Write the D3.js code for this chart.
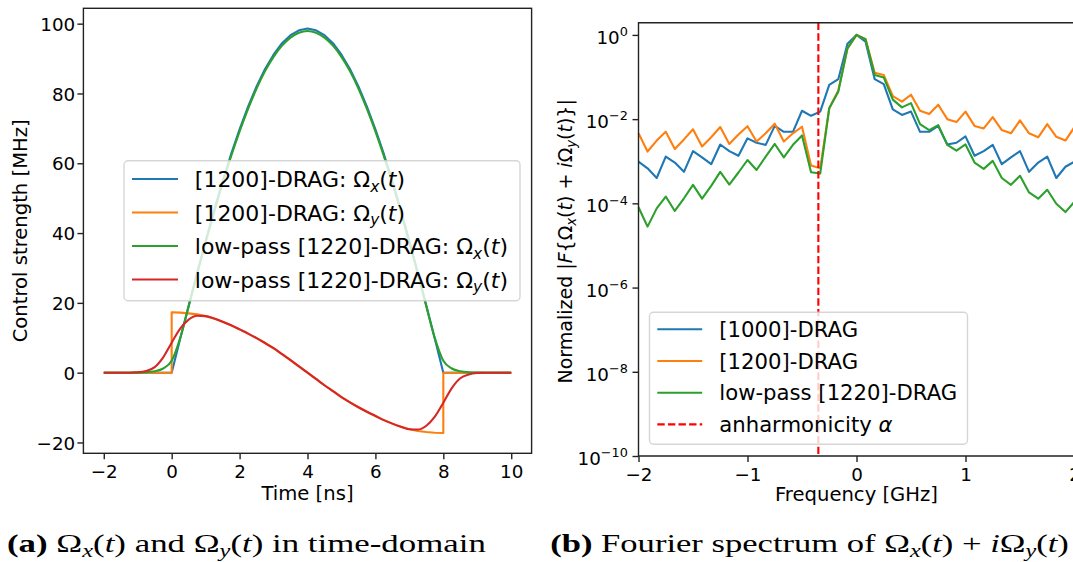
<!DOCTYPE html>
<html>
<head>
<meta charset="utf-8">
<script src="https://cdn.jsdelivr.net/npm/d3@7"></script>
<style>
  body { margin: 0; background: #fff; }
  svg { display: block; }
  text { font-family: "DejaVu Sans", sans-serif; fill: #000; }
</style>
</head>
<body>
<svg id="fig" width="1073" height="562"></svg>
<script>
// ---------- time-domain pulses (MHz) ----------
const timeNs = [-2,-1.75,-1.5,-1.25,-1,-0.75,-0.5,-0.25,0,0.25,0.5,0.75,1,1.25,1.5,1.75,2,2.25,2.5,2.75,3,3.25,3.5,3.75,4,4.25,4.5,4.75,5,5.25,5.5,5.75,6,6.25,6.5,6.75,7,7.25,7.5,7.75,8,8.25,8.5,8.75,9,9.25,9.5,9.75,10];
const omegaX1200 = [0,0,0,0,0,0,0,0,0,9.7,19.2,28.6,37.7,46.5,54.8,62.6,69.7,76.2,82.0,87.0,91.1,94.4,96.7,98.1,98.6,98.1,96.7,94.4,91.1,87.0,82.0,76.2,69.7,62.6,54.8,46.5,37.7,28.6,19.2,9.7,0,0,0,0,0,0,0,0,0];
const lowpassX1220 = [0,0,0,0,0.02,0.1,0.4,1.2,3.4,9.9,19.0,28.3,37.3,46.0,54.3,62.0,69.1,75.6,81.4,86.4,90.5,93.7,96.0,97.4,97.9,97.4,96.0,93.7,90.5,86.4,81.4,75.6,69.1,62.0,54.3,46.0,37.3,28.3,19.0,9.9,3.4,1.2,0.4,0.1,0.02,0,0,0,0];
const lowpassY1220 = [0,0,0,0,0.1,0.5,1.6,4.4,8.6,12.6,15.2,16.3,16.2,15.5,14.6,13.6,12.4,11.2,9.9,8.5,7.0,5.3,3.6,1.8,0,-1.8,-3.6,-5.3,-7.0,-8.5,-9.9,-11.2,-12.4,-13.6,-14.6,-15.5,-16.2,-16.3,-15.2,-12.6,-8.6,-4.4,-1.6,-0.5,-0.1,0,0,0,0];
// the unfiltered quadrature switches on and off abruptly at 0 and 8 ns
const timeStepNs = [-2,0,0,0.25,0.5,0.75,1,1.25,1.5,1.75,2,2.25,2.5,2.75,3,3.25,3.5,3.75,4,4.25,4.5,4.75,5,5.25,5.5,5.75,6,6.25,6.5,6.75,7,7.25,7.5,7.75,8,8,10];
const omegaY1200 = [0,0,17.3,17.2,17.0,16.7,16.2,15.5,14.6,13.6,12.4,11.2,9.9,8.5,7.0,5.3,3.6,1.8,0,-1.8,-3.6,-5.3,-7.0,-8.5,-9.9,-11.2,-12.4,-13.6,-14.6,-15.5,-16.2,-16.7,-17.0,-17.2,-17.3,0,0];
const timeTicks = [-2,0,2,4,6,8,10];
const strengthTicks = [-20,0,20,40,60,80,100];

// ---------- normalised spectra ----------
const freqGHz = [-2.000,-1.917,-1.833,-1.750,-1.667,-1.583,-1.500,-1.417,-1.333,-1.250,-1.167,-1.083,-1.000,-0.917,-0.833,-0.750,-0.667,-0.583,-0.500,-0.417,-0.333,-0.250,-0.167,-0.083,0,0.083,0.167,0.250,0.333,0.417,0.500,0.583,0.667,0.750,0.833,0.917,1.000,1.083,1.167,1.250,1.333,1.417,1.500,1.583,1.667,1.750,1.833,1.917,2.000];
const spec1000 = [9.8e-4,6.8e-4,4.0e-4,1.29e-3,9.3e-4,5.6e-4,1.74e-3,1.23e-3,8.5e-4,2.5e-3,1.74e-3,1.35e-3,3.5e-3,2.75e-3,2.45e-3,6.9e-3,5.0e-3,5.0e-3,1.58e-2,1.2e-2,1.51e-2,6.5e-2,8.9e-2,0.62,1,0.69,8.9e-2,6.8e-2,1.7e-2,1.26e-2,1.51e-2,5.0e-3,5.0e-3,6.9e-3,2.5e-3,2.75e-3,3.9e-3,1.35e-3,1.74e-3,2.45e-3,8.5e-4,1.23e-3,1.74e-3,5.6e-4,9.3e-4,1.29e-3,4.0e-4,7.4e-4,9.8e-4];
const spec1200 = [4.6e-3,1.7e-3,3.1e-3,5.0e-3,1.95e-3,3.3e-3,5.75e-3,2.24e-3,3.7e-3,6.5e-3,2.57e-3,4.3e-3,6.8e-3,2.95e-3,4.6e-3,7.8e-3,2.95e-3,4.6e-3,6.6e-3,7.9e-4,6.8e-4,1.82e-2,4.8e-2,0.48,1,0.79,0.126,0.112,3.5e-2,2.6e-2,3.8e-2,1.58e-2,1.32e-2,2.2e-2,1.0e-2,8.5e-3,1.51e-2,6.9e-3,6.0e-3,1.12e-2,5.5e-3,4.6e-3,9.3e-3,4.6e-3,3.7e-3,7.6e-3,3.8e-3,3.1e-3,6.5e-3];
const specLowpass1220 = [8.1e-5,2.8e-5,7.6e-5,1.45e-4,6.6e-5,1.32e-4,2.75e-4,1.29e-4,2.6e-4,5.6e-4,2.8e-4,5.4e-4,1.07e-3,6.2e-4,1.29e-3,2.57e-3,1.23e-3,2.45e-3,4.1e-3,5.5e-4,5.1e-4,1.82e-2,4.5e-2,0.48,1,0.79,0.112,9.8e-2,2.9e-2,1.9e-2,2.4e-2,7.6e-3,5.5e-3,7.2e-3,2.45e-3,1.78e-3,2.5e-3,9.3e-4,6.6e-4,1.02e-3,4.0e-4,2.75e-4,4.5e-4,1.82e-4,1.29e-4,2.1e-4,9.8e-5,6.2e-5,1.1e-4];
const anharmonicityGHz = -0.35;
const freqTicks = [-2,-1,0,1,2];
const spectrumTicks = [1e-10,1e-8,1e-6,1e-4,1e-2,1];
const spectrumTickExp = ["\u221210","\u22128","\u22126","\u22124","\u22122","0"];

const C = { blue: "#1f77b4", orange: "#ff7f0e", green: "#2ca02c", red: "#d62728" };
const svg = d3.select("#fig");
const TICK_FS = 18.3, LABEL_FS = 19.6;

// Append tspans for simple math-like runs: italics, subscripts, superscripts, bold.
function rich(textSel, parts, size) {
  let shift = 0;
  parts.forEach(([str, o = {}]) => {
    const ts = textSel.append("tspan").text(str);
    let target = 0;
    if (o.sub) { ts.attr("font-size", size * 0.7); target = size * 0.22; }
    if (o.sup) { ts.attr("font-size", size * 0.7); target = -size * 0.42; }
    if (target !== shift) { ts.attr("dy", target - shift); shift = target; }
    if (o.it) ts.attr("font-style", "italic");
    if (o.bold) ts.attr("font-weight", "bold");
  });
  return textSel;
}

function styleAxis(g) {
  g.select(".domain").remove();
  g.selectAll(".tick line").attr("stroke", "#222").attr("stroke-width", 1.4);
  g.selectAll(".tick text").attr("font-size", TICK_FS).attr("fill", "#000")
    .attr("font-family", "DejaVu Sans, sans-serif");
}

// ================= (a) time domain =================
const L = { left: 83.4, right: 531.6, top: 8.3, bottom: 453.3 };
const xT = d3.scaleLinear().domain([-2.6, 10.6]).range([L.left, L.right]);
const yT = d3.scaleLinear().domain([-23.1, 104.4]).range([L.bottom, L.top]);

const gA = svg.append("g");
const lineT = (xs, curve) => d3.line().x((d, i) => xT(xs[i])).y(d => yT(d)).curve(curve);

const seriesA = [
  { vals: omegaX1200, xs: timeNs, color: C.blue, curve: d3.curveLinear },
  { vals: omegaY1200, xs: timeStepNs, color: C.orange, curve: d3.curveLinear },
  { vals: lowpassX1220, xs: timeNs, color: C.green, curve: d3.curveMonotoneX },
  { vals: lowpassY1220, xs: timeNs, color: C.red, curve: d3.curveMonotoneX }
];
seriesA.forEach(s => {
  gA.append("path").attr("d", lineT(s.xs, s.curve)(s.vals))
    .attr("fill", "none").attr("stroke", s.color).attr("stroke-width", 2.1)
    .attr("stroke-linejoin", "round").attr("stroke-linecap", "butt");
});

gA.append("g").attr("transform", `translate(0,${L.bottom})`)
  .call(d3.axisBottom(xT).tickValues(timeTicks).tickSize(6).tickFormat(d3.format("d")))
  .call(styleAxis)
  .call(g => g.selectAll(".tick text").attr("y", 24.7).attr("dy", null));
gA.append("g").attr("transform", `translate(${L.left},0)`)
  .call(d3.axisLeft(yT).tickValues(strengthTicks).tickSize(6).tickPadding(2.2).tickFormat(d3.format("d")))
  .call(styleAxis)
  .call(g => g.selectAll(".tick text").attr("dy", "0.36em"));

gA.append("rect").attr("x", L.left).attr("y", L.top)
  .attr("width", L.right - L.left).attr("height", L.bottom - L.top)
  .attr("fill", "none").attr("stroke", "#222").attr("stroke-width", 1.4);

gA.append("text").attr("x", (L.left + L.right) / 2).attr("y", 500)
  .attr("text-anchor", "middle").attr("font-size", LABEL_FS).text("Time [ns]");
gA.append("text").attr("transform", `translate(27,${(L.top + L.bottom) / 2}) rotate(-90)`)
  .attr("text-anchor", "middle").attr("font-size", LABEL_FS).text("Control strength [MHz]");

// legend (a)
const legA = gA.append("g");
legA.append("rect").attr("x", 124).attr("y", 160.7).attr("width", 396).attr("height", 140)
  .attr("rx", 4).attr("fill", "#fff").attr("fill-opacity", 0.8)
  .attr("stroke", "#cccccc").attr("stroke-opacity", 0.8).attr("stroke-width", 1.4);
const legAItems = [
  { color: C.blue, parts: [["[1200]-DRAG: \u03A9"], ["x", { it: 1, sub: 1 }], ["("], ["t", { it: 1 }], [")"]] },
  { color: C.orange, parts: [["[1200]-DRAG: \u03A9"], ["y", { it: 1, sub: 1 }], ["("], ["t", { it: 1 }], [")"]] },
  { color: C.green, parts: [["low-pass [1220]-DRAG: \u03A9"], ["x", { it: 1, sub: 1 }], ["("], ["t", { it: 1 }], [")"]] },
  { color: C.red, parts: [["low-pass [1220]-DRAG: \u03A9"], ["y", { it: 1, sub: 1 }], ["("], ["t", { it: 1 }], [")"]] }
];
legAItems.forEach((it, i) => {
  const cy = 179 + i * 33.5;
  legA.append("line").attr("x1", 132).attr("x2", 178).attr("y1", cy).attr("y2", cy)
    .attr("stroke", it.color).attr("stroke-width", 2.1);
  rich(legA.append("text").attr("x", 194.8).attr("y", cy + 8).attr("font-size", 22), it.parts, 22);
});

// ================= (b) spectrum =================
const R = { left: 638.5, right: 1074.5, top: 22.7, bottom: 456 };
const xF = d3.scaleLinear().domain([-2, 2]).range([R.left, R.right]);
const yF = d3.scaleLog().domain([1e-10, 1.95]).range([R.bottom, R.top]);

const gB = svg.append("g");
const lineF = d3.line().x((d, i) => xF(freqGHz[i])).y(d => yF(d));
[[spec1000, C.blue], [spec1200, C.orange], [specLowpass1220, C.green]].forEach(([vals, color]) => {
  gB.append("path").attr("d", lineF(vals)).attr("fill", "none")
    .attr("stroke", color).attr("stroke-width", 2.1).attr("stroke-linejoin", "round");
});
gB.append("line").attr("x1", xF(anharmonicityGHz)).attr("x2", xF(anharmonicityGHz))
  .attr("y1", R.top).attr("y2", R.bottom)
  .attr("stroke", "#ff0000").attr("stroke-width", 2.1).attr("stroke-dasharray", "7.4,3.2");

gB.append("g").attr("transform", `translate(0,${R.bottom})`)
  .call(d3.axisBottom(xF).tickValues(freqTicks).tickSize(6).tickFormat(d3.format("d")))
  .call(styleAxis)
  .call(g => g.selectAll(".tick text").attr("y", 24.5).attr("dy", null));
gB.append("g").attr("transform", `translate(${R.left},0)`)
  .call(d3.axisLeft(yF).tickValues(spectrumTicks).tickSize(6).tickFormat(() => ""))
  .call(styleAxis);
spectrumTicks.forEach((v, i) => {
  rich(gB.append("text").attr("x", 627.8).attr("y", yF(v) + 9).attr("text-anchor", "end")
    .attr("font-size", TICK_FS), [["10"], [spectrumTickExp[i], { sup: 1 }]], TICK_FS);
});

gB.append("path")
  .attr("d", `M${R.right},${R.bottom}H${R.left}V${R.top}H${R.right}`)
  .attr("fill", "none").attr("stroke", "#222").attr("stroke-width", 1.4);

gB.append("text").attr("x", xF(0)).attr("y", 501)
  .attr("text-anchor", "middle").attr("font-size", LABEL_FS).text("Frequency [GHz]");
rich(gB.append("text").attr("transform", `translate(572,${(R.top + R.bottom) / 2 + 2}) rotate(-90)`)
  .attr("text-anchor", "middle").attr("font-size", 19),
  [["Normalized |"], ["F", { it: 1 }], ["{\u03A9"], ["x", { it: 1, sub: 1 }], ["("], ["t", { it: 1 }], [") + "],
   ["i", { it: 1 }], ["\u03A9"], ["y", { it: 1, sub: 1 }], ["("], ["t", { it: 1 }], [")}|"]], 19);

// legend (b)
const legB = gB.append("g");
legB.append("rect").attr("x", 649.5).attr("y", 312.3).attr("width", 318).attr("height", 132)
  .attr("rx", 4).attr("fill", "#fff").attr("fill-opacity", 0.8)
  .attr("stroke", "#cccccc").attr("stroke-opacity", 0.8).attr("stroke-width", 1.4);
const legBItems = [
  { color: C.blue, parts: [["[1000]-DRAG"]] },
  { color: C.orange, parts: [["[1200]-DRAG"]] },
  { color: C.green, parts: [["low-pass [1220]-DRAG"]] },
  { color: "#ff0000", dash: "7.4,3.2", parts: [["anharmonicity "], ["\u03B1", { it: 1 }]] }
];
legBItems.forEach((it, i) => {
  const cy = 329.3 + i * 31.7;
  legB.append("line").attr("x1", 657.3).attr("x2", 702.2).attr("y1", cy).attr("y2", cy)
    .attr("stroke", it.color).attr("stroke-width", 2.1).attr("stroke-dasharray", it.dash || null);
  rich(legB.append("text").attr("x", 719.3).attr("y", cy + 7.7).attr("font-size", 21.2), it.parts, 21.2);
});

// ================= sub-captions =================
function caption(x0, width, parts) {
  const g = svg.append("g");
  const t = g.append("text").attr("x", 0).attr("y", 0)
    .attr("font-size", 26)
    .style("font-family", "Liberation Serif, serif");
  rich(t, parts, 26);
  const w = t.node().getBBox().width;
  g.attr("transform", `translate(${x0},551.5) scale(${width / w},1)`);
}
caption(7, 479, [["(a)", { bold: 1 }], [" \u03A9"], ["x", { it: 1, sub: 1 }], ["("], ["t", { it: 1 }], [") and \u03A9"],
  ["y", { it: 1, sub: 1 }], ["("], ["t", { it: 1 }], [") in time-domain"]]);
caption(550.2, 519, [["(b)", { bold: 1 }], [" Fourier spectrum of \u03A9"], ["x", { it: 1, sub: 1 }], ["("], ["t", { it: 1 }],
  [") + "], ["i", { it: 1 }], ["\u03A9"], ["y", { it: 1, sub: 1 }], ["("], ["t", { it: 1 }], [")"]]);
</script>
</body>
</html>
